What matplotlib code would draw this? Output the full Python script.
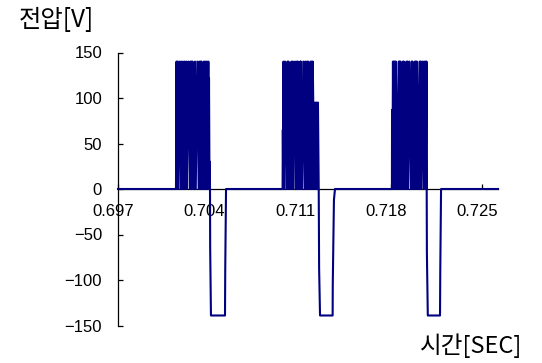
import matplotlib
matplotlib.use("Agg")
import matplotlib.pyplot as plt
import matplotlib.transforms as mtransforms
import numpy as np

plt.rcParams['font.family'] = ['Liberation Sans', 'DejaVu Sans']
plt.rcParams['path.simplify'] = False

# time axis in milliseconds (converted to seconds for plotting)
t_start_ms = 697.0
t_end_ms = 726.23

burst1_t = [701.46, 701.50, 701.54, 701.57, 701.605, 701.715, 701.825, 701.855, 701.92, 701.99,
            702.06, 702.13, 702.20, 702.26, 702.29, 702.41, 702.53, 702.56, 702.62, 702.66,
            702.70, 702.728, 702.823, 702.918, 702.98, 703.10, 703.22, 703.25, 703.32, 703.36,
            703.39, 703.42, 703.515, 703.61, 703.64, 703.70, 703.77, 703.84, 703.90, 703.95,
            703.98, 704.00, 704.04, 704.06, 704.077, 704.09, 704.15, 705.23, 705.25, 705.31]
burst1_v = [0, 140, 0, 140, 0, 140, 0, 140, 0, 140,
            0, 140, 0, 140, 0, 140, 0, 140, 0, 140,
            0, 140, 0, 140, 0, 140, 0, 140, 0, 140,
            0, 140, 0, 140, 0, 140, 0, 140, 0, 140,
            0, 122, 0, 30, 0, -64, -139, -139, -87, 0]

burst2_t = [709.66, 709.68, 709.71, 709.73, 709.75, 709.85, 709.95, 710.04, 710.08, 710.115,
            710.23, 710.345, 710.375, 710.45, 710.505, 710.615, 710.725, 710.755, 710.80, 710.83,
            710.923, 711.02, 711.05, 711.06, 711.15, 711.25, 711.37, 711.40, 711.47, 711.54,
            711.59, 711.62, 711.715, 711.81, 711.84, 711.90, 711.95, 711.98, 712.10, 712.15,
            712.20, 712.26, 712.32, 712.38, 712.44, 712.47, 712.54, 713.51, 713.52, 713.61,
            713.69]
burst2_v = [0, 65, 0, 140, 0, 140, 0, 140, 0, 140,
            0, 140, 0, 140, 0, 140, 0, 140, 0, 140,
            0, 140, 0, 140, 0, 140, 0, 140, 0, 140,
            0, 140, 0, 140, 0, 140, 0, 140, 0, 95,
            0, 95, 0, 95, 0, -87, -139, -139, -105, -12,
            0]

burst3_t = [718.07, 718.08, 718.11, 718.15, 718.19, 718.23, 718.27, 718.30, 718.34, 718.37,
            718.485, 718.60, 718.63, 718.66, 718.70, 718.73, 718.823, 718.92, 718.95, 718.98,
            719.08, 719.19, 719.22, 719.27, 719.30, 719.408, 719.515, 719.60, 719.63, 719.65,
            719.74, 719.84, 719.87, 719.91, 719.95, 719.99, 720.10, 720.21, 720.24, 720.27,
            720.30, 720.408, 720.515, 720.55, 720.61, 720.66, 720.70, 720.73, 720.745, 720.76,
            720.83, 721.77, 721.79, 721.85]
burst3_v = [0, 87, 0, 140, 0, 140, 0, 140, 0, 140,
            0, 140, 0, 140, 0, 140, 0, 140, 0, 140,
            0, 140, 0, 140, 0, 140, 0, 140, 0, 140,
            0, 140, 0, 140, 0, 140, 0, 140, 0, 140,
            0, 140, 0, 140, 0, 140, 0, 140, 0, -70,
            -139, -139, -90, 0]

xticks = [0.697, 0.704, 0.711, 0.718, 0.725]
xtick_labels = ["0.697", "0.704", "0.711", "0.718", "0.725"]
yticks = [-150, -100, -50, 0, 50, 100, 150]

t = np.array([t_start_ms] + burst1_t + burst2_t + burst3_t + [t_end_ms]) / 1000.0
v = np.array([0] + burst1_v + burst2_v + burst3_v + [0], dtype=float)

W, H = 542, 363
fig = plt.figure(figsize=(W / 100, H / 100), dpi=100)
ax = fig.add_axes([118 / W, 1 - 325.5 / H, 380 / W, (325.5 - 52.5) / H])
ax.patch.set_visible(False)

ax.plot(t, v, color='#000080', lw=1.5, zorder=3, solid_joinstyle='round', clip_on=False)

ax.set_xlim(0.697, 0.72623)
ax.set_ylim(-150, 150)
for s in ('top', 'right'):
    ax.spines[s].set_visible(False)
ax.spines['bottom'].set_position(('data', 0))
ax.spines['left'].set_linewidth(0.9)
ax.spines['bottom'].set_linewidth(0.9)

ax.set_xticks(xticks)
ax.set_xticklabels(xtick_labels)
ax.set_yticks(yticks)
ax.tick_params(direction='in', length=3.5, width=0.9, labelsize=12)
ax.tick_params(axis='y', pad=11.5)
ax.tick_params(axis='x', pad=10.5)

offset = mtransforms.ScaledTranslation(-5 / 100, 0, fig.dpi_scale_trans)
for lab in ax.get_xticklabels():
    lab.set_transform(lab.get_transform() + offset)

fig.text(56 / W, 1 - 20 / H, "전압[V]", ha='center', va='center', fontsize=17.5,
         family=['Noto Sans CJK KR', 'DejaVu Sans'])
fig.text(471.5 / W, 1 - 346 / H, "시간[SEC]", ha='center', va='center', fontsize=17,
         family=['Noto Sans CJK KR', 'DejaVu Sans'])

fig.savefig("out.png", dpi=100)
